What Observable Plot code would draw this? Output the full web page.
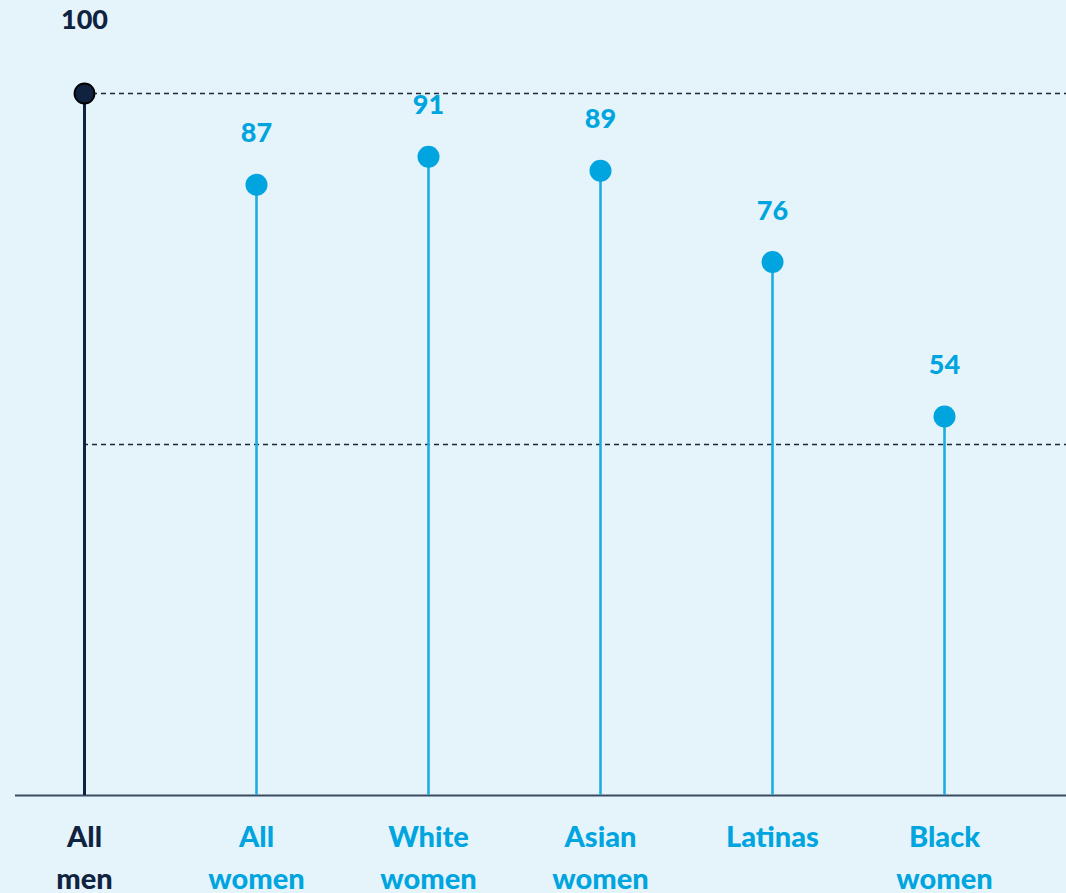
<!DOCTYPE html>
<html>
<head>
<meta charset="utf-8">
<script src="https://cdn.jsdelivr.net/npm/d3@7"></script>
<script src="https://cdn.jsdelivr.net/npm/@observablehq/plot@0.6"></script>
<style>
  html, body { margin: 0; padding: 0; background: #e5f4fb; }
  #chart svg { display: block; background: #e5f4fb; }
</style>
</head>
<body>
<div id="chart"></div>
<script>
const categories = ["All men", "All women", "White women", "Asian women", "Latinas", "Black women"];
const axisLabels = ["All\nmen", "All\nwomen", "White\nwomen", "Asian\nwomen", "Latinas", "Black\nwomen"];
const values = [100, 87, 91, 89, 76, 54];
const groups = ["men", "women", "women", "women", "women", "women"];
const referenceLines = [100, 50];

const data = categories.map((c, i) => ({category: c, label: axisLabels[i], value: values[i], group: groups[i]}));
const women = data.filter(d => d.group === "women");
const men = data.filter(d => d.group === "men");

const NAVY = "#0f2340";
const BLUE = "#00a5df";
const FONT = "Lato, 'Open Sans', sans-serif";

const chart = Plot.plot({
  width: 1066,
  height: 893,
  marginLeft: 15,
  marginRight: 0,
  marginTop: 0,
  marginBottom: 0,
  style: {background: "#e5f4fb", fontFamily: FONT},
  x: {type: "point", domain: categories, range: [83, 944], padding: 0, axis: null},
  y: {domain: [0, 100], range: [795, 93], axis: null},
  marks: [
    Plot.ruleY(referenceLines, {stroke: "#1c2738", strokeWidth: 1.3, strokeDasharray: "5,4", insetLeft: 68}),
    Plot.ruleY([0], {stroke: "#3b4b62", strokeWidth: 2}),
    Plot.ruleX(women, {x: "category", y1: 0, y2: "value", stroke: "#1fabe0", strokeWidth: 2.6}),
    Plot.ruleX(men, {x: "category", y1: 0, y2: "value", stroke: NAVY, strokeWidth: 3}),
    Plot.dot(women, {x: "category", y: "value", r: 11, fill: BLUE, stroke: "none"}),
    Plot.dot(men, {x: "category", y: "value", r: 10, fill: NAVY, stroke: "#000", strokeWidth: 1.8}),
    Plot.text(women, {x: "category", y: "value", text: d => String(d.value), dy: -51, fill: BLUE, fontSize: 27, fontWeight: 900}),
    Plot.text(men, {x: "category", y: "value", text: d => String(d.value), dy: -73, fill: NAVY, fontSize: 27, fontWeight: 900}),
    Plot.text(data, {x: "category", y: 0, text: "label", dy: 22, lineAnchor: "top", lineHeight: 1.45, fill: d => d.group === "men" ? NAVY : BLUE, fontSize: 29, fontWeight: 900})
  ]
});
document.getElementById("chart").appendChild(chart);
</script>
</body>
</html>
